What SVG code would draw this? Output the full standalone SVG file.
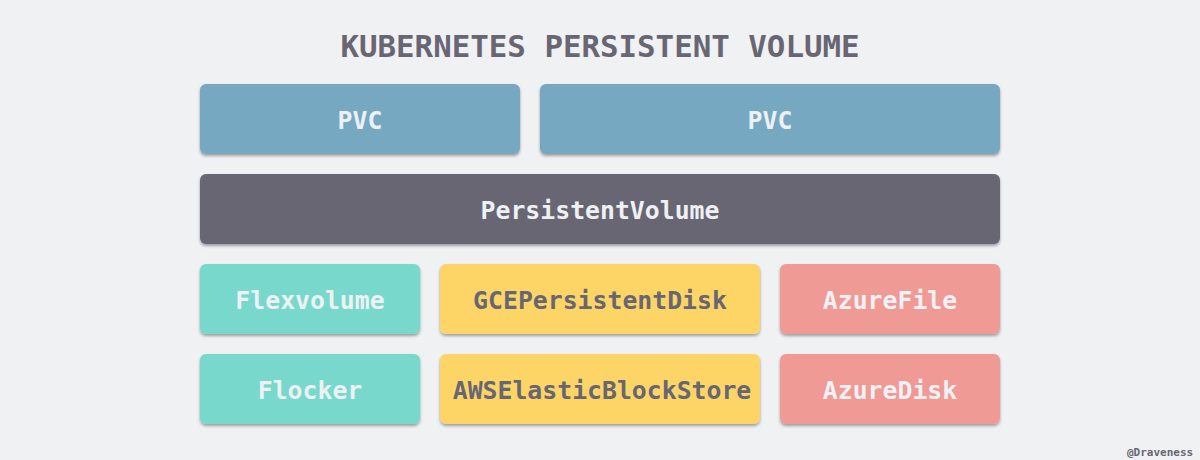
<svg xmlns="http://www.w3.org/2000/svg" width="1200" height="460" viewBox="0 0 1200 460">
<defs>
<filter id="sh" x="-5%" y="-10%" width="110%" height="130%">
<feDropShadow dx="0" dy="2" stdDeviation="1.5" flood-color="#000" flood-opacity="0.35"/>
</filter>
<style>
.box{filter:url(#sh)}
.t{font-family:"DejaVu Sans Mono","Liberation Mono",monospace;font-weight:bold;font-size:24.8px;text-anchor:middle;dominant-baseline:central;fill:#eef1f4}
.dark{fill:#686673}
.title{font-family:"DejaVu Sans Mono","Liberation Mono",monospace;font-weight:bold;font-size:30.8px;text-anchor:middle;fill:#686673}
.wm{font-family:"DejaVu Sans Mono","Liberation Mono",monospace;font-weight:bold;font-size:11px;fill:#686673}
</style>
</defs>
<rect width="1200" height="460" fill="#f0f1f3"/>
<text class="title" x="600" y="57">KUBERNETES PERSISTENT VOLUME</text>
<g id="pvc1"><rect class="box" x="200" y="84" width="320" height="70" rx="6" fill="#77a8c2"/><text class="t" x="360" y="120">PVC</text></g>
<g id="pvc2"><rect class="box" x="540" y="84" width="460" height="70" rx="6" fill="#77a8c2"/><text class="t" x="770" y="120">PVC</text></g>
<g id="pv"><rect class="box" x="200" y="174" width="800" height="70" rx="6" fill="#686673"/><text class="t" x="600" y="210">PersistentVolume</text></g>
<g id="flexvolume"><rect class="box" x="200" y="264" width="220" height="70" rx="6" fill="#78d8cc"/><text class="t" x="310" y="300">Flexvolume</text></g>
<g id="gce"><rect class="box" x="440" y="264" width="320" height="70" rx="6" fill="#fcd566"/><text class="t dark" x="600" y="300">GCEPersistentDisk</text></g>
<g id="azurefile"><rect class="box" x="780" y="264" width="220" height="70" rx="6" fill="#f09a95"/><text class="t" x="890" y="300">AzureFile</text></g>
<g id="flocker"><rect class="box" x="200" y="354" width="220" height="70" rx="6" fill="#78d8cc"/><text class="t" x="310" y="390">Flocker</text></g>
<g id="aws"><rect class="box" x="440" y="354" width="320" height="70" rx="6" fill="#fcd566"/><text class="t dark" x="602" y="390">AWSElasticBlockStore</text></g>
<g id="azuredisk"><rect class="box" x="780" y="354" width="220" height="70" rx="6" fill="#f09a95"/><text class="t" x="890" y="390">AzureDisk</text></g>
<g id="connectors"></g>
<text class="wm" x="1127" y="456">@Draveness</text>
</svg>
